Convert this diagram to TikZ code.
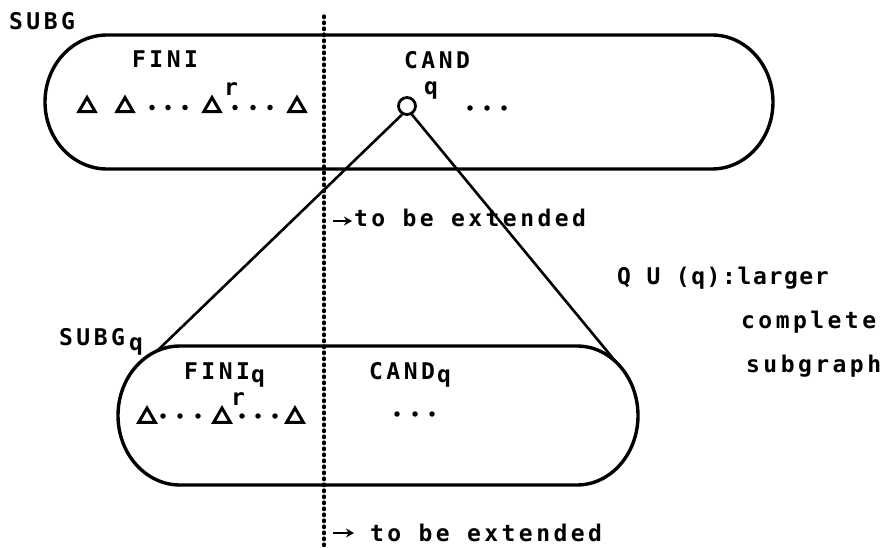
\documentclass[tikz,border=0pt]{standalone}
\usepackage{fontspec}
\usetikzlibrary{shapes.geometric,arrows.meta}
\newfontfamily\plotfont[LetterSpace=15]{DejaVu Sans Mono}
\newfontfamily\plotfontn[LetterSpace=7]{DejaVu Sans Mono}
\begin{document}
\begin{tikzpicture}[x=1pt,y=-1pt,
  lbl/.style={font=\plotfont\bfseries\fontsize{23}{27}\selectfont, inner sep=0, anchor=base west},
  lbln/.style={font=\plotfontn\bfseries\fontsize{23}{27}\selectfont, inner sep=0, anchor=base west},
  tri/.style={regular polygon, regular polygon sides=3, draw, line width=3pt, minimum size=19pt, inner sep=0},
  dotn/.style={circle, fill, inner sep=0, minimum size=5.5pt},
  box/.style={line width=3.4pt},
  conn/.style={line width=2.6pt},
  sep/.style={line width=3.2pt, dash pattern=on 1.6pt off 4.4pt, line cap=round},
  arr/.style={line width=2.8pt, -{Stealth[length=8pt,width=9pt]}}]
\useasboundingbox (0,0) rectangle (884,548);

% boxes
\draw[box] (107,35) -- (712,35) arc[start angle=-90,end angle=90,x radius=61,y radius=67]
  -- (107,169) arc[start angle=90,end angle=270,x radius=62,y radius=67] -- cycle;
\draw[box] (180,346) -- (577,346) arc[start angle=-90,end angle=90,x radius=61,y radius=69.5]
  -- (180,485) arc[start angle=90,end angle=270,x radius=62,y radius=69.5] -- cycle;

% dotted separator
\coordinate (dtop) at (324,16);
\coordinate (dbot) at (324,546);
\draw[sep] (dtop) -- (dbot);

% vertex q and its extension
\node[circle,draw,line width=2.8pt,minimum size=17pt,inner sep=0,fill=white] (q) at (407,106) {};
\coordinate (bl) at (157,351);
\coordinate (br) at (616,362);
\draw[conn] (q.-120) -- (bl);
\draw[conn] (q.-60) -- (br);

% top labels
\node[lbl] (subg) at (9,30) {SUBG};
\node[lbl] (fini) at (132,68) {FINI};
\node[lbl] (cand) at (404,69) {CAND};
\node[lbl] (qsup) at (424,95) {q};
\node[lbl] (rtop) at (224,96) {r};

% top row
\node[tri] (t1) at (87,107) {};
\node[tri] (t2) at (125,107) {};
\node[tri] (t3) at (212,107) {};
\node[tri] (t4) at (297,107) {};
\foreach \x/\n in {152/a,168/b,185/c,235/d,253/e,270/f}
  \node[dotn] (td\n) at (\x,107.5) {};
\foreach \x/\n in {470/a,487/b,504/c}
  \node[dotn] (tc\n) at (\x,108) {};

\coordinate (a1s) at (333,221);
\coordinate (a1e) at (352,221);
\draw[arr] (a1s) -- (a1e);
\node[lbl] (ext1) at (354,227) {to be extended};

% right annotation
\node[lbln] (qu) at (617,284) {Q U (q):larger};
\node[lbl] (compl) at (741,328) {complete};
\node[lbl] (subgr) at (746,372) {subgraph};

% bottom labels
\node[lbl] (subgq) at (59,345) {SUBG};
\node[lbl] (subgqq) at (129,350) {q};
\node[lbl] (finiq) at (184,379) {FINI};
\node[lbl] (finiqq) at (251,382) {q};
\node[lbl] (candq) at (369,379) {CAND};
\node[lbl] (candqq) at (437,382) {q};
\node[lbl] (rbot) at (231,405) {r};

% bottom row
\node[tri] (b1) at (147,417.5) {};
\node[tri] (b2) at (222,417.5) {};
\node[tri] (b3) at (295,417.5) {};
\foreach \x/\n in {163/a,180/b,198/c,242/d,258/e,275/f}
  \node[dotn] (bd\n) at (\x,416) {};
\foreach \x/\n in {397/a,415/b,432/c}
  \node[dotn] (bc\n) at (\x,414) {};

\coordinate (a2s) at (333,533);
\coordinate (a2e) at (354,533);
\draw[arr] (a2s) -- (a2e);
\node[lbl] (ext2) at (370,541) {to be extended};
\end{tikzpicture}
\end{document}
